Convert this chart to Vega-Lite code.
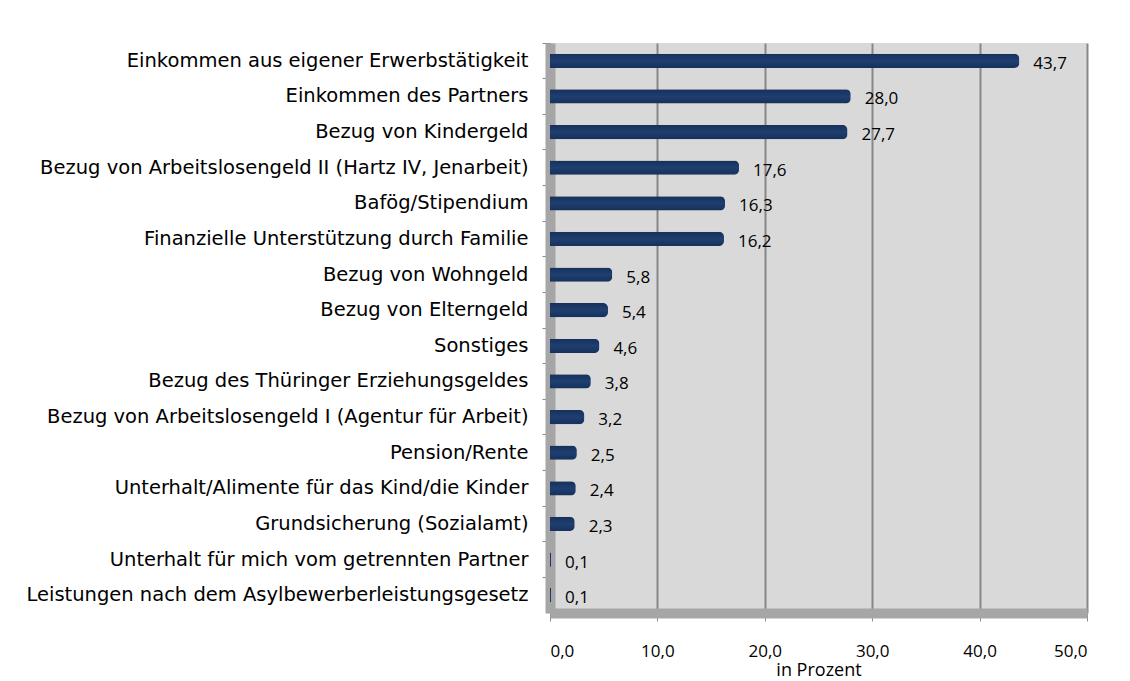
{
  "$schema": "https://vega.github.io/schema/vega-lite/v6.json",
  "width": 537,
  "height": 570,
  "autosize": {"type": "none"},
  "padding": {"left": 550, "top": 43, "right": 43, "bottom": 68},
  "background": "#ffffff",
  "config": {
    "locale": {"number": {"decimal": ",", "thousands": ".", "grouping": [3], "currency": ["", " €"]}},
    "view": {"fill": "#d9d9d9", "stroke": null},
    "font": "Open Sans"
  },
  "data": {
    "values": [
      {"cat": "Einkommen aus eigener Erwerbstätigkeit", "v": 43.7},
      {"cat": "Einkommen des Partners", "v": 28.0},
      {"cat": "Bezug von Kindergeld", "v": 27.7},
      {"cat": "Bezug von Arbeitslosengeld II (Hartz IV, Jenarbeit)", "v": 17.6},
      {"cat": "Bafög/Stipendium", "v": 16.3},
      {"cat": "Finanzielle Unterstützung durch Familie", "v": 16.2},
      {"cat": "Bezug von Wohngeld", "v": 5.8},
      {"cat": "Bezug von Elterngeld", "v": 5.4},
      {"cat": "Sonstiges", "v": 4.6},
      {"cat": "Bezug des Thüringer Erziehungsgeldes", "v": 3.8},
      {"cat": "Bezug von Arbeitslosengeld I (Agentur für Arbeit)", "v": 3.2},
      {"cat": "Pension/Rente", "v": 2.5},
      {"cat": "Unterhalt/Alimente für das Kind/die Kinder", "v": 2.4},
      {"cat": "Grundsicherung (Sozialamt)", "v": 2.3},
      {"cat": "Unterhalt für mich vom getrennten Partner", "v": 0.1},
      {"cat": "Leistungen nach dem Asylbewerberleistungsgesetz", "v": 0.1}
    ]
  },
  "encoding": {
    "y": {
      "field": "cat", "type": "nominal", "sort": null,
      "scale": {"paddingInner": 0, "paddingOuter": 0},
      "axis": {
        "title": null, "bandPosition": 0,
        "labelFont": "DejaVu Sans",
        "labelFontSize": 19.5, "labelColor": "#000000", "labelPadding": 14,
        "labelLimit": 600,
        "tickSize": 8, "tickColor": "#8c8c8c", "tickWidth": 1,
        "domainColor": "#a6a6a6", "domainWidth": 10, "grid": false
      }
    },
    "x": {
      "field": "v", "type": "quantitative",
      "scale": {"domain": [0, 50], "nice": false},
      "axis": {
        "values": [0, 10, 20, 30, 40, 50], "format": ".1f",
        "title": "in Prozent", "titleFontSize": 18, "titleFontWeight": "normal", "titleColor": "#000000", "titlePadding": 2,
        "labelFontSize": 17, "labelColor": "#000000", "labelPadding": 22,
        "tickSize": 8, "tickColor": "#8c8c8c",
        "domainColor": "#a6a6a6", "domainWidth": 10,
        "grid": true, "gridColor": "#878787", "gridWidth": 2
      }
    }
  },
  "layer": [
    {
      "mark": {
        "type": "bar", "height": {"band": 0.4}, "cornerRadiusEnd": 5,
        "color": {"gradient": "linear", "x1": 0, "y1": 0, "x2": 0, "y2": 1,
          "stops": [{"offset": 0, "color": "#16305a"}, {"offset": 0.5, "color": "#1f3f70"}, {"offset": 1, "color": "#16305a"}]}
      }
    },
    {
      "mark": {"type": "text", "align": "left", "dx": 14, "dy": 3, "fontSize": 17, "color": "#000000"},
      "encoding": {"text": {"field": "v", "type": "quantitative", "format": ".1f"}}
    }
  ]
}
